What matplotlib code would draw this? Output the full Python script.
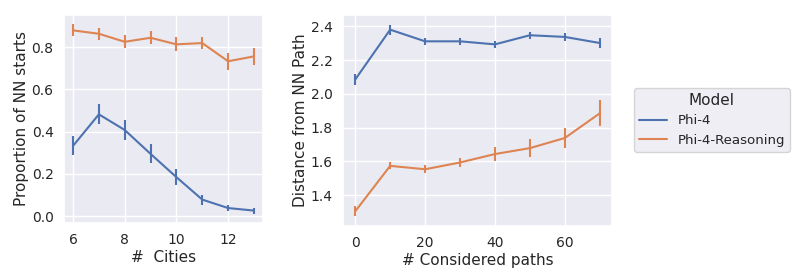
import matplotlib
matplotlib.use("Agg")
import matplotlib.pyplot as plt
import seaborn as sns

sns.set_theme(style="darkgrid")
plt.rcParams['font.family'] = ['DejaVu Sans']

cities = [6, 7, 8, 9, 10, 11, 12, 13]
phi4_nn = [0.333, 0.482, 0.408, 0.295, 0.185, 0.079, 0.039, 0.027]
phi4_nn_err = [0.045, 0.047, 0.047, 0.045, 0.038, 0.024, 0.015, 0.014]
phi4r_nn = [0.879, 0.863, 0.825, 0.844, 0.813, 0.819, 0.733, 0.756]
phi4r_nn_err = [0.028, 0.028, 0.03, 0.03, 0.033, 0.03, 0.04, 0.039]

paths = [0, 10, 20, 30, 40, 50, 60, 70]
phi4_dist = [2.085, 2.38, 2.311, 2.311, 2.293, 2.347, 2.337, 2.301]
phi4_dist_err = [0.032, 0.03, 0.02, 0.02, 0.02, 0.022, 0.022, 0.028]
phi4r_dist = [1.305, 1.574, 1.554, 1.594, 1.644, 1.679, 1.739, 1.885]
phi4r_dist_err = [0.03, 0.02, 0.025, 0.025, 0.04, 0.055, 0.06, 0.076]

models = ["Phi-4", "Phi-4-Reasoning"]
colors = sns.color_palette()[:2]

fig = plt.figure(figsize=(7.93, 2.8), dpi=100)
ax1 = fig.add_axes([64/793, 1-223/280, 199/793, 208/280])
ax2 = fig.add_axes([343/793, 1-226/280, 269/793, 211/280])

for ax, x, series in [
    (ax1, cities, [(phi4_nn, phi4_nn_err), (phi4r_nn, phi4r_nn_err)]),
    (ax2, paths, [(phi4_dist, phi4_dist_err), (phi4r_dist, phi4r_dist_err)]),
]:
    for (y, e), c, m in zip(series, colors, models):
        ax.errorbar(x, y, yerr=e, color=c, lw=1.5, elinewidth=1.5, capsize=0, label=m)
    ax.tick_params(labelsize=10, pad=1.5)

ax1.set_xlabel("#  Cities", fontsize=11, labelpad=2)
ax1.set_ylabel("Proportion of NN starts", fontsize=11, labelpad=2)
ax1.set_xticks([6, 8, 10, 12])
ax1.set_yticks([0.0, 0.2, 0.4, 0.6, 0.8])

ax2.set_xlabel("# Considered paths", fontsize=11, labelpad=2)
ax2.set_ylabel("Distance from NN Path", fontsize=11, labelpad=2)
ax2.set_xticks([0, 20, 40, 60])
ax2.set_yticks([1.4, 1.6, 1.8, 2.0, 2.2, 2.4])

handles = [plt.Line2D([], [], color=c, lw=1.5) for c in colors]
fig.legend(handles, models, title="Model", loc="center left",
           bbox_to_anchor=(634/793, 1-120/280), borderaxespad=0,
           fontsize=9.6, title_fontsize=11, handlelength=2.1, handletextpad=0.8,
           borderpad=0.35)

fig.savefig("out.png", dpi=100)
